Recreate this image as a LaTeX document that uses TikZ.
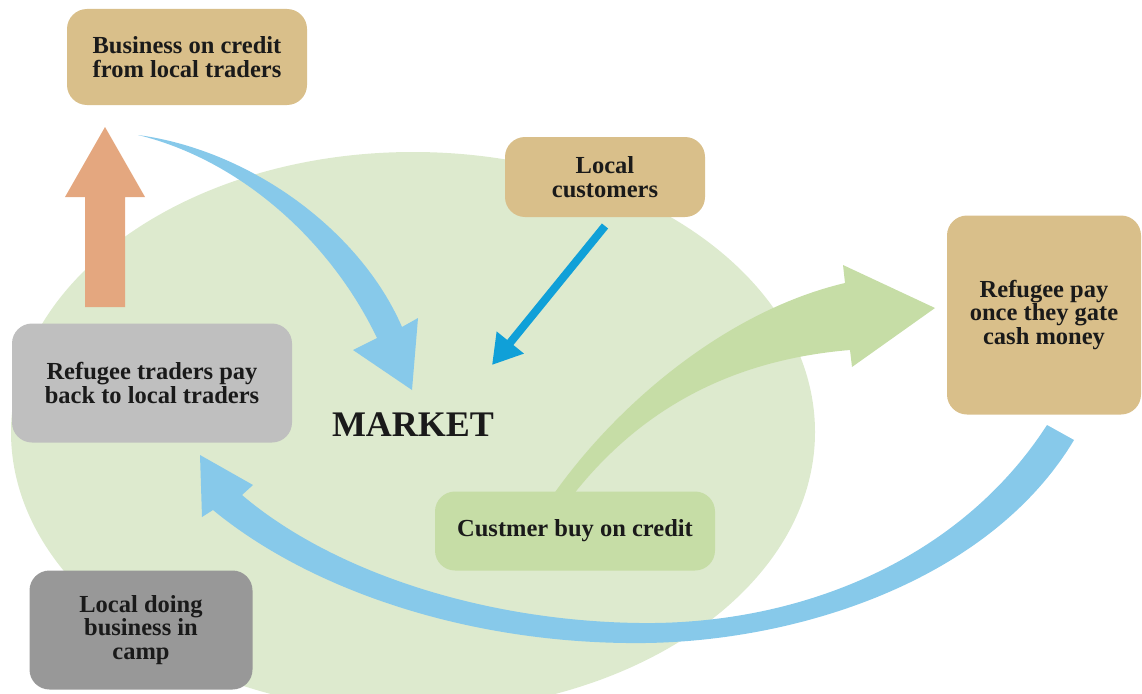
\documentclass[tikz,border=0pt]{standalone}
\usepackage{fontspec}
\setmainfont{Liberation Serif}
\usetikzlibrary{arrows.meta}
\definecolor{tanbox}{HTML}{D9BF8A}
\definecolor{ellg}{HTML}{DDEACE}
\definecolor{grn}{HTML}{C6DDA6}
\definecolor{lblue}{HTML}{87C9EA}
\definecolor{dblue}{HTML}{10A0D8}
\definecolor{orng}{HTML}{E4A77F}
\definecolor{lgray}{HTML}{BFBFBF}
\definecolor{dgray}{HTML}{989898}
\definecolor{txt}{HTML}{1A1A1A}
\tikzset{
  box/.style={rounded corners=20pt, inner sep=0pt, align=center, text=txt,
    font=\fontsize{24.5}{23.5}\selectfont\bfseries}
}
\begin{document}
\begin{tikzpicture}[x=1pt,y=-1pt]
\useasboundingbox (0,0) rectangle (1142,693);
\clip (0,0) rectangle (1142,693);
% market ellipse
\fill[ellg] (413,432) ellipse [x radius=402, y radius=280];
% orange arrow
\fill[orng] (85,307) -- (85,197) -- (65,197) -- (105,127) -- (145,197) -- (125,197) -- (125,307) -- cycle;
% top blue curved arrow
\fill[lblue] (138,135) .. controls (250,150) and (360,230) .. (402,327)
  -- (418,318) -- (412,390) -- (353,350) -- (377,338)
  .. controls (330,240) and (240,160) .. (138,135) -- cycle;
% green curved arrow
\fill[grn] (553,495) .. controls (620,400) and (730,310) .. (845,283)
  -- (843,265) -- (935,308) -- (852,367) -- (850,350)
  .. controls (730,360) and (640,410) .. (573,495) -- cycle;
% boxes
\node[box, fill=tanbox, minimum width=240pt, minimum height=96pt] (b1) at (187,57) {Business on credit\\from local traders};
\node[box, fill=tanbox, minimum width=200pt, minimum height=80pt] (lc) at (605,177) {Local\\customers};
\node[box, fill=tanbox, minimum width=194pt, minimum height=199pt] (rp) at (1044,315) {Refugee pay\\once they gate\\cash money};
\node[box, fill=lgray, minimum width=280pt, minimum height=119pt] (rt) at (152,383) {Refugee traders pay\\back to local traders};
\node[box, fill=dgray, minimum width=223pt, minimum height=119pt] (ld) at (141,630) {Local doing\\business in\\camp};
\node[box, fill=grn, minimum width=280pt, minimum height=79pt] (cb) at (575,531) {Custmer buy on credit};
\node[text=txt, inner sep=0pt, font=\fontsize{36}{40}\selectfont\bfseries] (mk) at (413,425) {MARKET};
% local customers arrow
\coordinate (lcs) at (605,226);
\coordinate (lct) at (492,365);
\draw[dblue, line width=8pt, -{Triangle[length=29pt,width=33pt]}] (lcs) -- (lct);
% bottom blue curved arrow
\fill[lblue] (1047,425) .. controls (960,560) and (800,625) .. (640,623)
  .. controls (480,621) and (330,570) .. (242,495)
  -- (253,485) -- (200,455) -- (202,517) -- (213,510)
  .. controls (310,590) and (470,645) .. (645,643)
  .. controls (800,641) and (990,580) .. (1074,440) -- cycle;
\end{tikzpicture}
\end{document}
